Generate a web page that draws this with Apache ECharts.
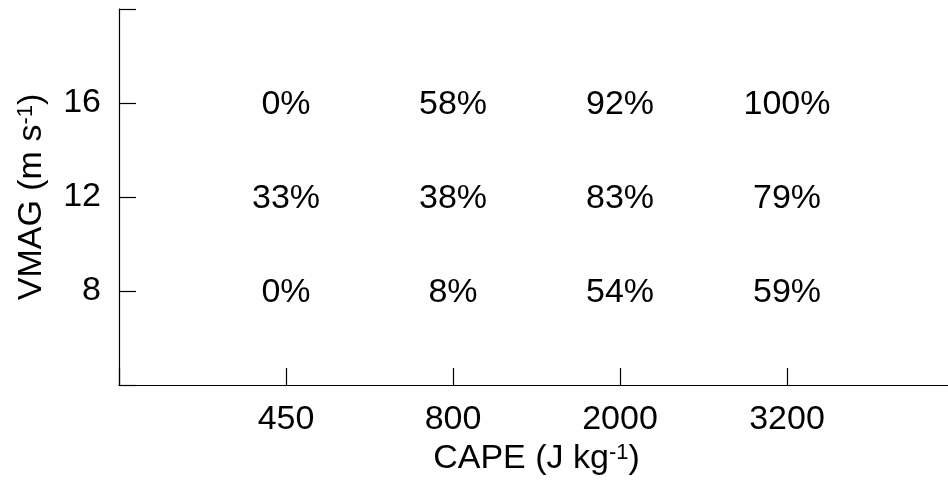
<!DOCTYPE html>
<html>
<head>
<meta charset="utf-8">
<script src="https://cdn.jsdelivr.net/npm/echarts@6/dist/echarts.min.js"></script>
<style>html,body{margin:0;padding:0;background:#fff}#c{width:948px;height:484px}</style>
</head>
<body>
<div id="c"></div>
<script>
var capeLabels = ['450', '800', '2000', '3200'];
var vmagLevels = [8, 12, 16];
var pct8 = ['0%', '8%', '54%', '59%'];
var pct12 = ['33%', '38%', '83%', '79%'];
var pct16 = ['0%', '58%', '92%', '100%'];
var yTickLabels = ['8', '12', '16'];

var rows = [pct8, pct12, pct16];
var data = [];
for (var r = 0; r < vmagLevels.length; r++) {
  for (var i = 0; i < capeLabels.length; i++) {
    data.push([i + 1, vmagLevels[r], rows[r][i]]);
  }
}
var FONT = 'Liberation Sans, Arial, sans-serif';
var chart = echarts.init(document.getElementById('c'));
chart.setOption({
  animation: false,
  backgroundColor: '#fff',
  grid: { left: 119, top: 9, width: 835, height: 376, outerBoundsMode: 'none' },
  xAxis: {
    type: 'value', min: 0, max: 5, interval: 1,
    axisLine: { show: true, lineStyle: { color: '#000', width: 1.2 } },
    axisTick: { show: true, inside: true, length: 17, lineStyle: { color: '#000', width: 1.2 } },
    splitLine: { show: false },
    axisLabel: {
      margin: 18, color: '#000', fontSize: 34, fontFamily: FONT,
      formatter: function (v) { return (v >= 1 && v <= capeLabels.length) ? capeLabels[v - 1] : ''; }
    },
    name: 'CAPE (J kg{s|-1})', nameLocation: 'middle', nameGap: 56,
    nameTextStyle: { color: '#000', fontSize: 34, fontFamily: FONT,
      rich: { s: { fontSize: 22, fontFamily: FONT, color: '#000', verticalAlign: 'top', lineHeight: 30 } } }
  },
  yAxis: {
    type: 'value', min: 4, max: 20, interval: 4,
    axisLine: { show: true, lineStyle: { color: '#000', width: 1.2 } },
    axisTick: { show: true, inside: true, length: 17, lineStyle: { color: '#000', width: 1.2 } },
    splitLine: { show: false },
    axisLabel: {
      margin: 18, color: '#000', fontSize: 34, fontFamily: FONT, padding: [3, 0, 0, 0],
      formatter: function (v) { return yTickLabels.indexOf(String(v)) >= 0 ? String(v) : ''; }
    },
    name: 'VMAG (m s{s|-1})', nameLocation: 'middle', nameGap: 70,
    nameTextStyle: { color: '#000', fontSize: 34, fontFamily: FONT,
      rich: { s: { fontSize: 22, fontFamily: FONT, color: '#000', verticalAlign: 'top', lineHeight: 30 } } }
  },
  series: [{
    type: 'scatter',
    data: data,
    symbolSize: 0,
    itemStyle: { color: '#000', opacity: 1 },
    label: {
      show: true, position: 'inside', color: '#000', opacity: 1, fontSize: 34, fontFamily: FONT,
      offset: [0, 2],
      formatter: function (p) { return p.value[2]; }
    },
    emphasis: { disabled: true }
  }]
});
</script>
</body>
</html>
